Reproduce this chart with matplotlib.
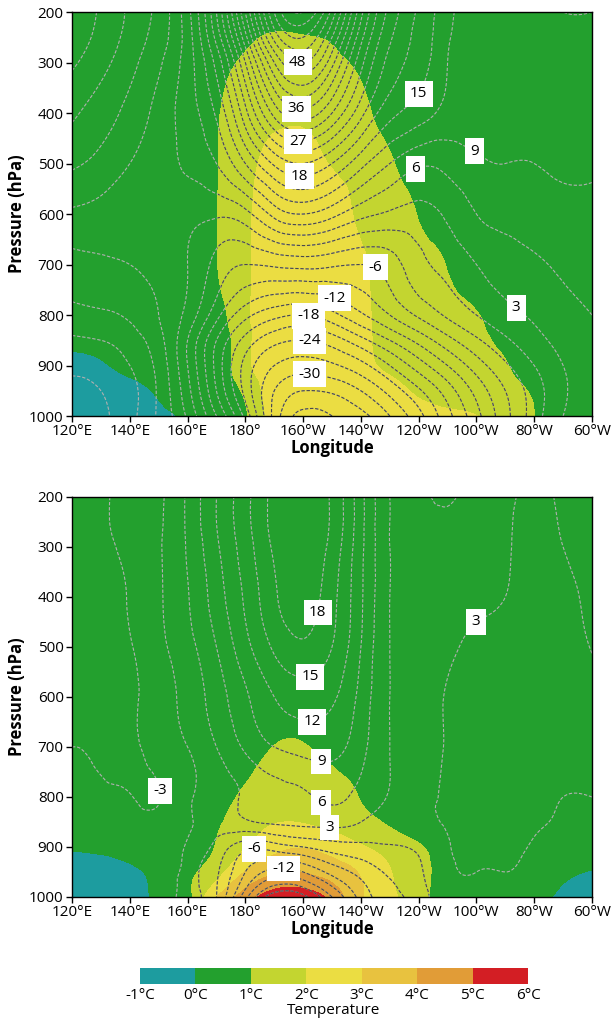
import numpy as np
import matplotlib
matplotlib.use("Agg")
import matplotlib.pyplot as plt
import matplotlib.tri as mtri
from matplotlib.colors import ListedColormap, BoundaryNorm
from matplotlib.cm import ScalarMappable
from matplotlib.path import Path

plt.rcParams['font.family'] = ['Open Sans', 'DejaVu Sans']

# Grid the fields were read on
LONS = [120, 130, 140, 150, 160, 170, 180, 190, 200, 210, 220, 230, 240, 250, 260, 270, 280, 290, 300]
PRESSURES = [200, 250, 300, 400, 500, 600, 700, 800, 850, 900, 950, 1000]

# Top panel: temperature anomaly (filled), one row per pressure level
TOP_TEMP = [
    [0.5, 0.5, 0.5, 0.5, 0.5, 0.5, 0.5, 0.6, 0.55, 0.5, 0.5, 0.5, 0.5, 0.5, 0.5, 0.5, 0.5, 0.5, 0.5],
    [0.5, 0.5, 0.5, 0.5, 0.5, 0.5, 0.8, 1.1, 1.05, 0.9, 0.6, 0.5, 0.5, 0.5, 0.5, 0.5, 0.5, 0.5, 0.5],
    [0.5, 0.5, 0.5, 0.5, 0.5, 0.7, 1.15, 1.5, 1.5, 1.2, 0.85, 0.5, 0.5, 0.5, 0.5, 0.5, 0.5, 0.5, 0.5],
    [0.5, 0.5, 0.5, 0.5, 0.5, 0.9, 1.6, 1.85, 1.85, 1.6, 1.2, 0.7, 0.5, 0.5, 0.5, 0.5, 0.5, 0.5, 0.5],
    [0.5, 0.5, 0.5, 0.5, 0.5, 0.95, 1.7, 2.3, 2.35, 1.95, 1.6, 1.1, 0.6, 0.5, 0.5, 0.5, 0.5, 0.5, 0.5],
    [0.5, 0.5, 0.5, 0.5, 0.5, 0.97, 1.8, 2.5, 2.6, 2.4, 1.85, 1.5, 0.95, 0.55, 0.5, 0.5, 0.5, 0.5, 0.5],
    [0.5, 0.5, 0.5, 0.5, 0.5, 0.97, 1.8, 2.5, 2.6, 2.5, 2.1, 1.7, 1.4, 0.95, 0.5, 0.5, 0.5, 0.5, 0.5],
    [0.5, 0.5, 0.5, 0.5, 0.5, 0.65, 1.8, 2.5, 2.6, 2.5, 2.15, 1.8, 1.6, 1.35, 1.05, 0.6, 0.5, 0.5, 0.5],
    [0.25, 0.3, 0.45, 0.5, 0.5, 0.5, 1.7, 2.5, 2.6, 2.55, 2.15, 1.85, 1.65, 1.45, 1.2, 0.8, 0.5, 0.5, 0.5],
    [-0.3, -0.1, 0.2, 0.4, 0.5, 0.45, 1.7, 2.5, 2.6, 2.55, 2.2, 1.9, 1.7, 1.5, 1.3, 1.05, 0.6, 0.5, 0.5],
    [-0.5, -0.4, -0.2, 0.1, 0.4, 0.5, 1.2, 2.5, 2.6, 2.55, 2.4, 2.2, 1.9, 1.7, 1.5, 1.25, 0.9, 0.5, 0.5],
    [-0.6, -0.5, -0.35, -0.15, 0.15, 0.5, 0.85, 2.4, 2.6, 2.6, 2.5, 2.4, 2.3, 2.15, 2.02, 1.5, 1.0, 0.55, 0.5],
]

# Top panel: height anomaly (dashed lines)
TOP_HGT = [
    [-12, -8.5, -5.5, -2, 5, 18, 36, 54, 60, 50, 34, 23, 17.5, 13, 10, 10.5, 11.5, 12, 12],
    [-11, -8, -5, -1.5, 4.5, 16, 32, 49, 54, 45, 31, 21.5, 17, 12.5, 9.5, 10, 11, 11.5, 11.5],
    [-9.5, -7, -4, -0.5, 4.5, 13, 27, 42, 48, 40, 28, 20, 16.5, 12, 9.5, 9.5, 10.5, 11, 11],
    [-6.5, -4.5, -2, 1, 4.5, 9.5, 20, 31, 35, 30, 22, 16, 13.5, 11, 10, 9.5, 9.5, 10, 10],
    [-3.5, -2, 0, 1.5, 3.5, 6, 12, 18.5, 21, 18, 13, 9, 6.5, 7, 8.5, 9, 9, 9.5, 9.5],
    [0.5, 1, 1.5, 1.5, 1, 0.5, 2, 7, 9, 7, 4, 2.5, 2, 3.5, 6, 7, 7.5, 8, 8],
    [4, 3.5, 3, 2, 0, -4, -6, -5.5, -5, -5.5, -6, -4.5, -1, 1, 3, 4.5, 5.5, 6.5, 7],
    [7, 6.5, 5.5, 3, -1, -8, -14, -17, -18, -16, -12.5, -9, -5.5, -2.5, 0, 2, 3.5, 5, 6],
    [9.5, 9, 7.5, 4, -3, -12, -19, -23, -24, -22.5, -19, -15, -11, -7, -3.5, -0.5, 2, 4, 5.5],
    [11.5, 11, 9, 5, -3, -13, -22, -27, -28.5, -27.5, -25, -21, -16.5, -12, -7.5, -3.5, 0, 3, 5],
    [12.5, 12, 10, 5.5, -2, -12, -22, -30, -33, -32.5, -30, -26, -21.5, -16.5, -11, -6, -1.5, 2.5, 5],
    [13, 12.5, 10, 5.5, -0.5, -9, -19, -31, -37, -36, -34, -30, -25, -19, -13, -7, -1.5, 3, 5],
]

# Bottom panel: temperature anomaly (filled)
BOTTOM_TEMP = [
    [0.5] * 19,
    [0.5] * 19,
    [0.5] * 19,
    [0.5] * 19,
    [0.5] * 19,
    [0.5] * 19,
    [0.5, 0.5, 0.5, 0.5, 0.5, 0.5, 0.6, 1.02, 1.05, 0.8, 0.6, 0.5, 0.5, 0.5, 0.5, 0.5, 0.5, 0.5, 0.5],
    [0.5, 0.5, 0.5, 0.5, 0.5, 0.6, 1.2, 1.5, 1.5, 1.35, 0.95, 0.5, 0.5, 0.5, 0.5, 0.5, 0.5, 0.5, 0.5],
    [0.5, 0.5, 0.5, 0.5, 0.45, 0.85, 1.5, 1.95, 1.95, 1.7, 1.35, 0.85, 0.5, 0.5, 0.5, 0.5, 0.5, 0.5, 0.5],
    [0.1, 0.15, 0.3, 0.45, 0.5, 1.05, 1.95, 2.7, 2.95, 2.6, 2.1, 1.6, 1.1, 0.6, 0.5, 0.5, 0.45, 0.35, 0.3],
    [-0.4, -0.3, -0.15, 0.25, 0.8, 1.6, 3.05, 3.85, 3.95, 3.55, 2.9, 2.05, 1.3, 0.7, 0.5, 0.5, 0.3, 0.1, -0.03],
    [-0.6, -0.5, -0.3, 0.1, 0.7, 3.0, 4.45, 5.6, 5.65, 4.65, 3.1, 2.2, 1.35, 0.5, 0.4, 0.3, 0.15, -0.1, -0.35],
]

# Bottom panel: height anomaly (dashed lines)
BOTTOM_HGT = [
    [-5, -3.5, -2, -0.5, 3.5, 9, 14, 19, 20.5, 17.5, 10, 3, 0.5, -0.3, 1.5, 2.5, 4.5, 6.5, 7.5],
    [-5, -3.5, -2, -0.4, 3.5, 9, 14, 19, 20.5, 17.5, 10, 3, 0.8, 0.4, 1.7, 2.7, 4.4, 6.3, 7.3],
    [-5, -3.7, -2.3, -0.3, 3.3, 8.5, 13.5, 18.5, 20.2, 17, 9.8, 3, 1, 1, 2, 2.8, 4.2, 6, 7],
    [-4.8, -4, -2.8, -0.4, 2.8, 7.5, 12.5, 17.5, 19.5, 16, 9.5, 3, 1.2, 1.8, 2.6, 3, 4, 5.3, 6.5],
    [-4.5, -4, -3.2, -0.8, 2, 6, 11, 15.5, 17.5, 15, 9, 3, 1.5, 2.5, 3.4, 3.4, 3.6, 4.8, 6.1],
    [-4, -4, -3.5, -1.5, 1, 4.5, 8.5, 12, 13.5, 12.5, 8, 3, 1.8, 3.2, 3.8, 3.6, 3.3, 4, 5],
    [-3, -3.3, -3.4, -2, 0, 3, 6.5, 9, 10, 10, 7, 3, 2, 3.2, 4, 3.8, 3.3, 3.5, 4],
    [-2, -2.5, -2.9, -3.1, -0.5, 1.5, 3.5, 5, 5.5, 6.5, 5, 2.8, 2.5, 3.3, 4, 4, 3.5, 3, 3],
    [-1.5, -2, -2.3, -2.2, -0.3, 1, 2.5, 3.5, 3.8, 4, 3, 1.5, 2.2, 3.2, 3.8, 3.8, 3.3, 2.8, 2.5],
    [-1, -1.5, -1.8, -1.5, 0.2, -0.8, -5, -4.5, -3, -1.5, -0.8, -0.2, 0.5, 2.8, 3.4, 3.4, 2.8, 2.3, 2],
    [-0.8, -1.3, -1.5, -1.2, 0.3, -2.5, -9, -13, -12, -8, -5, -2.5, -0.5, 2.5, 3, 3, 2.5, 1.9, 1.2],
    [-0.5, -1, -1.2, -1, 0.5, -3, -14, -23, -22, -15, -8, -4, -1.5, 2, 2.5, 2.5, 2, 1.3, 0.5],
]

# Labelled contours: (value, longitude, pressure)
TOP_LABELS = [(48, 198, 305), (36, 198, 388), (27, 198, 455), (18, 199, 521),
              (15, 239, 358), (6, 237, 483), (9, 260, 469), (-6, 227, 679),
              (-12, 212, 748), (-18, 202, 802), (-24, 202, 857), (-30, 202, 927),
              (3, 273, 790)]
BOTTOM_LABELS = [(18, 199, 422), (15, 202, 554), (12, 203, 644), (9, 206, 732),
                 (6, 208, 792), (3, 209, 850), (-6, 183, 912), (-12, 193, 956),
                 (-3, 152, 786), (3, 263, 474)]

TEMP_LEVELS = [-1, 0, 1, 2, 3, 4, 5, 6]
TEMP_COLORS = ['#1d9c9f', '#23a02e', '#c3d530', '#ebdd42', '#e8c23f', '#e19c37', '#d31e24']
HGT_LEVELS = list(range(-45, 69, 3))

LON_TICKS = [120, 140, 160, 180, 200, 220, 240, 260, 280, 300]
LON_TICK_LABELS = ['120°E', '140°E', '160°E', '180°', '160°W', '140°W',
                   '120°W', '100°W', '80°W', '60°W']
P_TICKS = [200, 300, 400, 500, 600, 700, 800, 900, 1000]

cmap = ListedColormap(TEMP_COLORS)
norm = BoundaryNorm(TEMP_LEVELS, cmap.N)
DASH = (0, (3, 1.6))

# lon/pressure -> roughly screen-proportional units
SX = 520 / 180
SY = 400 / 800


def refined(values):
    """Smooth the read grid with matplotlib's cubic tri refiner."""
    lon_g, p_g = np.meshgrid(LONS, PRESSURES)
    ncol, nrow = len(LONS), len(PRESSURES)
    u = (lon_g.ravel() - 120) * SX
    v = (p_g.ravel() - 200) * SY
    tris = []
    for i in range(nrow - 1):
        for j in range(ncol - 1):
            a = i * ncol + j
            tris.append([a, a + 1, a + ncol])
            tris.append([a + 1, a + ncol + 1, a + ncol])
    tri = mtri.Triangulation(u, v, tris)
    tri_r, z_r = mtri.UniformTriRefiner(tri).refine_field(np.ravel(values), subdiv=4)
    tri_d = mtri.Triangulation(120 + tri_r.x / SX, 200 + tri_r.y / SY, tri_r.triangles)
    return tri_d, z_r


def label_contour(ax, cs, value, lon, p):
    """Put a boxed label on the contour `value`, at its point nearest (lon, p)."""
    verts = cs.get_paths()[HGT_LEVELS.index(value)].vertices
    if len(verts) == 0:
        return
    d = ((verts[:, 0] - lon) * SX) ** 2 + ((verts[:, 1] - p) * SY) ** 2
    x, y = verts[np.argmin(d)]
    ax.text(x, y, f'{value}', ha='center', va='center', fontsize=11, zorder=6,
            bbox=dict(boxstyle='square,pad=0.35', fc='white', ec='none'))


def draw_panel(ax, temp, hgt, labels):
    ax.set_xlim(120, 300)
    ax.set_ylim(1000, 200)

    tri_t, t_r = refined(temp)
    tri_h, h_r = refined(hgt)
    cf = ax.tricontourf(tri_t, t_r, levels=TEMP_LEVELS, cmap=cmap, norm=norm)

    light = ax.tricontour(tri_h, h_r, levels=HGT_LEVELS, colors='#b0b0b0', linewidths=0.8)
    light.set_linestyle(DASH)
    dark = ax.tricontour(tri_h, h_r, levels=HGT_LEVELS, colors='#4a4a4a', linewidths=0.8)
    dark.set_linestyle(DASH)
    # dark lines only over the warm (>= 1 C) shading
    warm = [p for p in cf.get_paths()[2:] if len(p.vertices)]
    if warm:
        dark.set_clip_path(Path.make_compound_path(*warm), ax.transData)
    else:
        dark.remove()

    for value, lon, p in labels:
        label_contour(ax, light, value, lon, p)

    ax.set_xticks(LON_TICKS)
    ax.set_xticklabels(LON_TICK_LABELS)
    ax.set_yticks(P_TICKS)
    ax.tick_params(direction='out', length=4, width=1, labelsize=11, pad=2)
    ax.set_xlabel('Longitude', fontsize=12, fontweight='bold', labelpad=0)
    ax.set_ylabel('Pressure (hPa)', fontsize=12, fontweight='bold', labelpad=2)
    for s in ax.spines.values():
        s.set_linewidth(1)


fig = plt.figure(figsize=(6.14, 10.27), dpi=100)
ax1 = fig.add_axes([0.1173, 0.5949, 0.8469, 0.3934])
ax2 = fig.add_axes([0.1173, 0.1266, 0.8469, 0.3895])

draw_panel(ax1, TOP_TEMP, TOP_HGT, TOP_LABELS)
draw_panel(ax2, BOTTOM_TEMP, BOTTOM_HGT, BOTTOM_LABELS)

# Colour key
cax = fig.add_axes([0.228, 0.0419, 0.632, 0.0156])
cb = fig.colorbar(ScalarMappable(norm=norm, cmap=cmap), cax=cax,
                  orientation='horizontal', ticks=TEMP_LEVELS)
cb.outline.set_visible(False)
cb.set_ticklabels([f'{t}°C' for t in TEMP_LEVELS])
cb.ax.tick_params(length=0, labelsize=11, pad=3)
cb.set_label('Temperature', fontsize=11, labelpad=0)

plt.savefig('out.png', dpi=100)
